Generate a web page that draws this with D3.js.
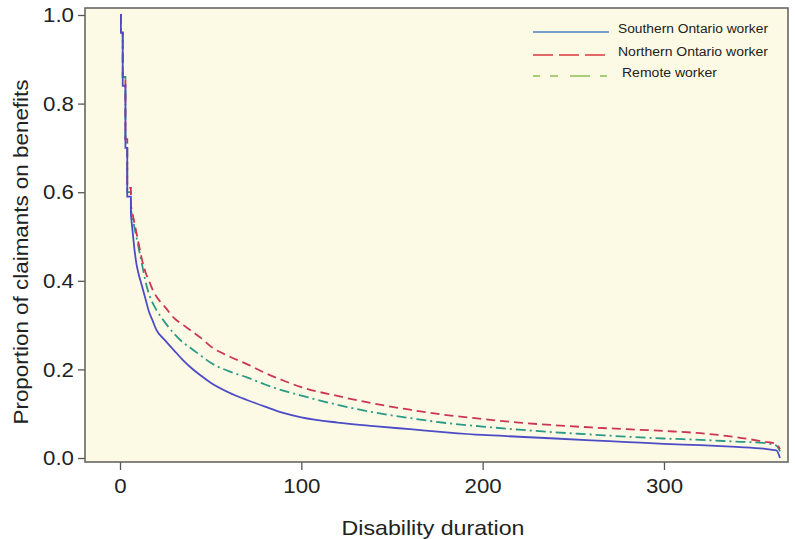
<!DOCTYPE html>
<html>
<head>
<meta charset="utf-8">
<script src="https://cdn.jsdelivr.net/npm/d3@7"></script>
<style>
  body { margin: 0; background: #fff; }
  svg { display: block; font-family: "Liberation Sans", Arial, sans-serif; }
</style>
</head>
<body>
<div id="chart"></div>
<script>
// Disability duration (days) where the survival curves were read
const days = [0, 0.5, 1.5, 3, 4, 6, 7, 8, 9, 10, 12, 14, 16, 18, 20, 25, 30, 35, 40, 45, 50,
  60, 70, 80, 90, 100, 120, 140, 160, 180, 200, 220, 240, 260, 280, 300, 320, 340, 355, 362, 364];

const southern = [1.00, 0.96, 0.84, 0.70, 0.59, 0.55, 0.51, 0.47, 0.44, 0.42, 0.39, 0.36, 0.33, 0.31, 0.29,
  0.265, 0.242, 0.22, 0.201, 0.185, 0.17, 0.148, 0.131, 0.116, 0.102, 0.092, 0.08, 0.072, 0.065, 0.058,
  0.052, 0.048, 0.044, 0.040, 0.036, 0.032, 0.029, 0.025, 0.021, 0.017, 0.0];

const northern = [1.00, 0.96, 0.86, 0.72, 0.61, 0.57, 0.55, 0.53, 0.51, 0.49, 0.45, 0.42, 0.40, 0.38, 0.365,
  0.34, 0.315, 0.30, 0.285, 0.27, 0.252, 0.23, 0.212, 0.192, 0.175, 0.16, 0.14, 0.123, 0.109, 0.097,
  0.088, 0.080, 0.074, 0.069, 0.065, 0.061, 0.056, 0.047, 0.037, 0.032, 0.02];

const remote = [1.00, 0.96, 0.86, 0.72, 0.60, 0.56, 0.54, 0.52, 0.50, 0.48, 0.44, 0.40, 0.37, 0.35, 0.335,
  0.305, 0.28, 0.26, 0.245, 0.23, 0.215, 0.196, 0.182, 0.166, 0.152, 0.141, 0.12, 0.103, 0.09, 0.079,
  0.071, 0.064, 0.058, 0.053, 0.048, 0.044, 0.041, 0.037, 0.034, 0.028, 0.015];

const legendLabels = ["Southern Ontario worker", "Northern Ontario worker", "Remote worker"];
const xTicks = [0, 100, 200, 300];
const yTicks = [0, 0.2, 0.4, 0.6, 0.8, 1.0];

const W = 795, H = 539;
const frame = { left: 85, right: 788, top: 8, bottom: 462 };
const stepUntil = 6; // first days drawn as steps, the rest as a smooth curve

const svg = d3.select("#chart").append("svg")
  .attr("width", W)
  .attr("height", H);

const x = d3.scaleLinear().domain([-19.3, 368.4]).range([frame.left, frame.right]);
const y = d3.scaleLinear().domain([-0.009, 1.0158]).range([frame.bottom, frame.top]);

// text in the source is a bit wider than Liberation Sans, stretch it
function stretch(sel, k) {
  sel.each(function () {
    const w = this.getComputedTextLength();
    d3.select(this).attr("textLength", w * k).attr("lengthAdjust", "spacingAndGlyphs");
  });
}

// plot panel
svg.append("rect")
  .attr("x", frame.left)
  .attr("y", frame.top)
  .attr("width", frame.right - frame.left)
  .attr("height", frame.bottom - frame.top)
  .attr("fill", "#fcfae4");

// axes
const yAxis = svg.append("g")
  .attr("transform", `translate(${frame.left},0)`)
  .call(d3.axisLeft(y).tickValues(yTicks).tickFormat(d3.format(".1f")).tickSize(7).tickPadding(4));

const xAxis = svg.append("g")
  .attr("transform", `translate(0,${frame.bottom})`)
  .call(d3.axisBottom(x).tickValues(xTicks).tickSize(8).tickPadding(8));

[xAxis, yAxis].forEach(a => {
  a.select(".domain").remove();
  a.selectAll(".tick line").attr("stroke", "#555").attr("stroke-width", 1.3);
  a.selectAll(".tick text").attr("fill", "#222").style("font-size", "21px").call(stretch, 1.06);
});

// survival curves
const series = [
  { values: southern, color: "#4c4cc6", dash: null },
  { values: northern, color: "#cc3558", dash: "9,5" },
  { values: remote, color: "#2a9988", dash: "10,4,2,4" }
];

const stepLine = d3.line()
  .x(d => x(d[0]))
  .y(d => y(d[1]))
  .curve(d3.curveStepAfter);

const smoothLine = d3.line()
  .x(d => x(d[0]))
  .y(d => y(d[1]))
  .curve(d3.curveMonotoneX);

// draw back to front: remote, northern, southern
series.slice().reverse().forEach(s => {
  const pts = days.map((t, i) => [t, s.values[i]]);
  const early = pts.filter(d => d[0] <= stepUntil);
  const late = pts.filter(d => d[0] >= stepUntil);
  const d = stepLine(early) + smoothLine(late).replace(/^M/, "L");
  svg.append("path")
    .attr("d", d)
    .attr("fill", "none")
    .attr("stroke", s.color)
    .attr("stroke-width", 1.8)
    .attr("stroke-dasharray", s.dash);
});

// frame
svg.append("rect")
  .attr("x", frame.left)
  .attr("y", frame.top)
  .attr("width", frame.right - frame.left)
  .attr("height", frame.bottom - frame.top)
  .attr("fill", "none")
  .attr("stroke", "#666")
  .attr("stroke-width", 1.6);

// legend (colours as drawn in the source legend)
const legendStyles = [
  { color: "#4a7fc6", dash: null, dy: 32, tx: 618, len: 150 },
  { color: "#d93a3e", dash: "20,6", dy: 55, tx: 618, len: 150 },
  { color: "#8cbf52", dash: "7,10,8,12,20,10", dy: 76, tx: 622, len: 95 }
];

const legend = svg.append("g");
legendLabels.forEach((label, i) => {
  const st = legendStyles[i];
  legend.append("line")
    .attr("x1", 533).attr("x2", 609)
    .attr("y1", st.dy).attr("y2", st.dy)
    .attr("stroke", st.color)
    .attr("stroke-width", 1.5)
    .attr("stroke-dasharray", st.dash);
  legend.append("text")
    .attr("x", st.tx)
    .attr("y", st.dy - 3)
    .attr("dy", "0.35em")
    .attr("fill", "#222")
    .attr("textLength", st.len)
    .attr("lengthAdjust", "spacingAndGlyphs")
    .style("font-size", "12.5px")
    .text(label);
});

// axis titles
svg.append("text")
  .attr("transform", "translate(28,252) rotate(-90)")
  .attr("text-anchor", "middle")
  .attr("fill", "#222")
  .attr("textLength", 345)
  .attr("lengthAdjust", "spacingAndGlyphs")
  .style("font-size", "20px")
  .text("Proportion of claimants on benefits");

svg.append("text")
  .attr("x", 433)
  .attr("y", 535)
  .attr("text-anchor", "middle")
  .attr("fill", "#222")
  .attr("textLength", 183)
  .attr("lengthAdjust", "spacingAndGlyphs")
  .style("font-size", "21px")
  .text("Disability duration");
</script>
</body>
</html>
